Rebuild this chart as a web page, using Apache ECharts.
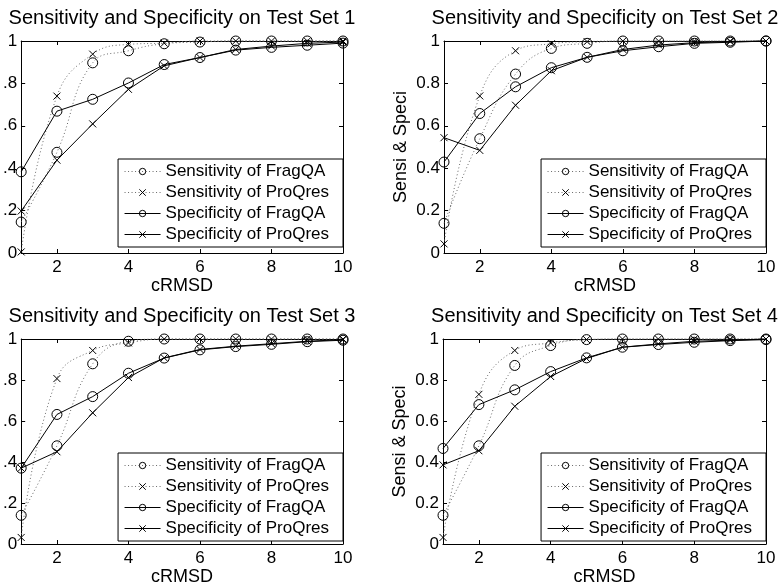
<!DOCTYPE html>
<html>
<head>
<meta charset="utf-8">
<script src="https://cdn.jsdelivr.net/npm/echarts@6/dist/echarts.min.js"></script>
<style>html,body{margin:0;padding:0;background:#fff}#c{width:780px;height:587px}</style>
</head>
<body>
<div id="c"></div>
<script>
const cRMSD = [1, 2, 3, 4, 5, 6, 7, 8, 9, 10];
const xTicks = [2, 4, 6, 8, 10];
const seriesNames = ['Sensitivity of FragQA', 'Sensitivity of ProQres', 'Specificity of FragQA', 'Specificity of ProQres'];
const titles = ['Sensitivity and Specificity on Test Set 1', 'Sensitivity and Specificity on Test Set 2',
                'Sensitivity and Specificity on Test Set 3', 'Sensitivity and Specificity on Test Set 4'];

// Test Set 1
const sensFragQA1 = [0.146, 0.475, 0.897, 0.954, 0.987, 0.995, 1.0, 1.0, 1.0, 1.0];
const sensProQres1 = [0.005, 0.740, 0.938, 0.984, 0.990, 1.0, 1.0, 1.0, 1.0, 1.0];
const specFragQA1 = [0.383, 0.669, 0.725, 0.802, 0.889, 0.922, 0.957, 0.970, 0.980, 0.990];
const specProQres1 = [0.198, 0.438, 0.609, 0.772, 0.883, 0.922, 0.960, 0.976, 0.989, 0.995];
// Test Set 2
const sensFragQA2 = [0.140, 0.539, 0.844, 0.965, 0.989, 1.0, 1.0, 1.0, 1.0, 1.0];
const sensProQres2 = [0.043, 0.741, 0.954, 0.987, 0.997, 1.0, 1.0, 1.0, 1.0, 1.0];
const specFragQA2 = [0.429, 0.658, 0.784, 0.874, 0.923, 0.954, 0.973, 0.989, 0.994, 1.0];
const specProQres2 = [0.544, 0.484, 0.697, 0.860, 0.923, 0.960, 0.981, 0.992, 0.997, 1.0];
// Test Set 3
const sensFragQA3 = [0.140, 0.479, 0.879, 0.989, 1.0, 1.0, 1.0, 1.0, 1.0, 1.0];
const sensProQres3 = [0.032, 0.807, 0.944, 0.981, 1.0, 1.0, 1.0, 1.0, 1.0, 1.0];
const specFragQA3 = [0.370, 0.632, 0.719, 0.833, 0.907, 0.947, 0.963, 0.974, 0.987, 0.994];
const specProQres3 = [0.370, 0.450, 0.640, 0.812, 0.908, 0.949, 0.965, 0.977, 0.989, 0.997];
// Test Set 4
const sensFragQA4 = [0.140, 0.479, 0.871, 0.968, 0.997, 1.0, 1.0, 1.0, 1.0, 1.0];
const sensProQres4 = [0.032, 0.730, 0.944, 0.981, 0.997, 1.0, 1.0, 1.0, 1.0, 1.0];
const specFragQA4 = [0.466, 0.680, 0.752, 0.841, 0.908, 0.960, 0.973, 0.984, 0.992, 0.997];
const specProQres4 = [0.386, 0.455, 0.672, 0.817, 0.905, 0.960, 0.976, 0.989, 0.994, 1.0];

const panelData = [
  [sensFragQA1, sensProQres1, specFragQA1, specProQres1],
  [sensFragQA2, sensProQres2, specFragQA2, specProQres2],
  [sensFragQA3, sensProQres3, specFragQA3, specProQres3],
  [sensFragQA4, sensProQres4, specFragQA4, specProQres4]
];

const FONT = '"Liberation Sans", Arial, Helvetica, sans-serif';
const grids = [
  { left: 21, top: 41, width: 322, height: 212 },
  { left: 444, top: 41, width: 322, height: 212 },
  { left: 21, top: 339, width: 322, height: 207 },
  { left: 443, top: 339, width: 323, height: 207 }
];
const crossPath = 'path://M0,0L10,10M10,0L0,10';

const option = {
  animation: false,
  backgroundColor: '#fff',
  textStyle: { fontFamily: FONT, color: '#000' },
  title: [], grid: [], xAxis: [], yAxis: [], legend: [], series: []
};

grids.forEach((g, i) => {
  const left = i % 2 === 0;
  option.grid.push({ left: g.left, top: g.top, width: g.width, height: g.height, containLabel: false });
  option.title.push({
    text: titles[i], left: g.left + g.width / 2, top: g.top - 33, textAlign: 'center', padding: 0,
    textStyle: { fontFamily: FONT, fontSize: 20, fontWeight: 'normal', color: '#000' }
  });
  const axLine = { show: true, onZero: false, lineStyle: { color: '#000', width: 1 } };
  const tick = { show: true, inside: true, length: 4, lineStyle: { color: '#000' } };
  // bottom x
  option.xAxis.push({
    type: 'value', gridIndex: i, min: 1, max: 10, position: 'bottom',
    name: 'cRMSD', nameLocation: 'middle', nameGap: 24,
    nameTextStyle: { fontFamily: FONT, fontSize: 18, color: '#000' },
    axisLine: axLine, axisTick: Object.assign({ customValues: xTicks }, tick),
    axisLabel: { customValues: xTicks, margin: 6, fontFamily: FONT, fontSize: 17, color: '#000' },
    splitLine: { show: false }
  });
  // top x (box)
  option.xAxis.push({
    type: 'value', gridIndex: i, min: 1, max: 10, position: 'top',
    axisLine: axLine, axisTick: Object.assign({ customValues: xTicks }, tick),
    axisLabel: { show: false }, splitLine: { show: false }
  });
  // left y
  option.yAxis.push({
    type: 'value', gridIndex: i, min: 0, max: 1, interval: 0.2, position: 'left',
    name: left ? '' : 'Sensi & Speci', nameLocation: 'middle', nameGap: 34, nameRotate: 90,
    nameTextStyle: { fontFamily: FONT, fontSize: 18, color: '#000' },
    axisLine: axLine, axisTick: tick,
    axisLabel: {
      margin: 4, fontFamily: FONT, fontSize: 17, color: '#000',
      formatter: v => {
        const s = String(Math.round(v * 10) / 10);
        return left ? s.replace(/^0\./, '.') : s;
      }
    },
    splitLine: { show: false }
  });
  // right y (box)
  option.yAxis.push({
    type: 'value', gridIndex: i, min: 0, max: 1, interval: 0.2, position: 'right',
    axisLine: axLine, axisTick: tick, axisLabel: { show: false }, splitLine: { show: false }
  });

  option.legend.push({
    orient: 'vertical',
    right: 780 - (g.left + g.width),
    bottom: i < 2 ? 340 : 46,
    data: seriesNames,
    backgroundColor: '#fff', borderColor: '#000', borderWidth: 1, borderRadius: 0,
    padding: [4, 14, 4, 6],
    itemWidth: 36, itemHeight: 8, itemGap: 4,
    selectedMode: false,
    textStyle: { fontFamily: FONT, fontSize: 17, color: '#000' },
    lineStyle: { width: 1 },
    itemStyle: { borderWidth: 1 }
  });

  panelData[i].forEach((vals, k) => {
    const dotted = k < 2;
    const isCircle = k % 2 === 0;
    option.series.push({
      name: seriesNames[k], type: 'line',
      xAxisIndex: i * 2, yAxisIndex: i * 2,
      data: cRMSD.map((x, j) => [x, vals[j]]),
      smooth: dotted ? 0.45 : false,
      clip: false,
      symbol: isCircle ? 'circle' : crossPath,
      symbolSize: isCircle ? 10 : 7,
      showSymbol: true,
      lineStyle: dotted ? { color: '#6a6a6a', width: 1, type: [1, 2.5] } : { color: '#000', width: 1, type: 'solid' },
      itemStyle: { color: 'transparent', borderColor: '#000', borderWidth: 1 },
      emphasis: { disabled: true },
      z: dotted ? 2 : 3
    });
  });
});

const chart = echarts.init(document.getElementById('c'), null, { renderer: 'canvas' });
chart.setOption(option);
</script>
</body>
</html>
